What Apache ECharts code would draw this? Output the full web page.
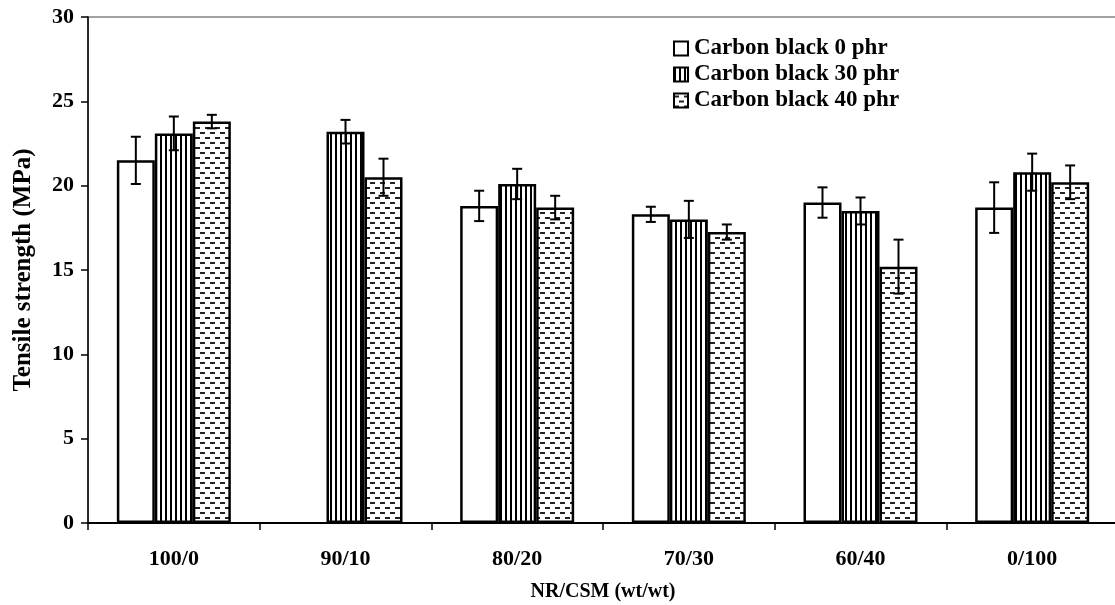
<!DOCTYPE html>
<html>
<head>
<meta charset="utf-8">
<script src="https://cdn.jsdelivr.net/npm/echarts@6/dist/echarts.min.js"></script>
<style>
  html, body { margin: 0; padding: 0; background: #fff; }
  #chart { width: 1115px; height: 605px; }
</style>
</head>
<body>
<div id="chart"></div>
<script>
// NR/CSM blend ratios
const categories = ['100/0', '90/10', '80/20', '70/30', '60/40', '0/100'];
const seriesNames = ['Carbon black 0 phr', 'Carbon black 30 phr', 'Carbon black 40 phr'];

// Tensile strength (MPa) and standard deviations per carbon black loading
const cb0 = [21.5, null, 18.8, 18.3, 19.0, 18.7];
const cb0Err = [1.4, null, 0.9, 0.45, 0.9, 1.5];
const cb30 = [23.1, 23.2, 20.1, 18.0, 18.5, 20.8];
const cb30Err = [1.0, 0.7, 0.9, 1.1, 0.8, 1.1];
const cb40 = [23.8, 20.5, 18.7, 17.25, 15.2, 20.2];
const cb40Err = [0.4, 1.1, 0.7, 0.45, 1.6, 1.0];

const yTicks = [0, 5, 10, 15, 20, 25, 30];

const FONT = '"Liberation Serif", "Times New Roman", serif';
const BAR_W = 38;

// Hatch fills
function stripePattern() {
  const c = document.createElement('canvas');
  c.width = 5; c.height = 5;
  const g = c.getContext('2d');
  g.fillStyle = '#fff'; g.fillRect(0, 0, 5, 5);
  g.fillStyle = '#000'; g.fillRect(0, 0, 2, 5);
  return { image: c, repeat: 'repeat' };
}
function dashPattern() {
  const c = document.createElement('canvas');
  c.width = 10; c.height = 10;
  const g = c.getContext('2d');
  g.fillStyle = '#fff'; g.fillRect(0, 0, 10, 10);
  g.fillStyle = '#222';
  g.fillRect(0, 2, 5, 2);
  g.fillRect(5, 7, 5, 2);
  return { image: c, repeat: 'repeat' };
}

const fills = ['#ffffff', stripePattern(), dashPattern()];
const values = [cb0, cb30, cb40];
const errors = [cb0Err, cb30Err, cb40Err];

const barSeries = seriesNames.map((name, i) => ({
  name: name,
  type: 'bar',
  barWidth: BAR_W,
  barGap: '0%',
  data: values[i],
  itemStyle: { color: fills[i], borderColor: '#000', borderWidth: 2.5 },
  emphasis: { disabled: true },
  z: 2
}));

const errSeries = seriesNames.map((name, i) => ({
  name: name + ' error',
  type: 'custom',
  data: values[i].map((v, k) => (v == null ? [k, null, null] : [k, v, errors[i][k]])),
  renderItem: function (params, api) {
    const v = api.value(1);
    const e = api.value(2);
    if (v == null || isNaN(v)) return null;
    const off = (i - 1) * BAR_W;
    const hi = api.coord([api.value(0), v + e]);
    const lo = api.coord([api.value(0), v - e]);
    const x = hi[0] + off;
    const cap = 5;
    const st = { stroke: '#000', lineWidth: 2 };
    return {
      type: 'group',
      children: [
        { type: 'line', shape: { x1: x, y1: hi[1], x2: x, y2: lo[1] }, style: st },
        { type: 'line', shape: { x1: x - cap, y1: hi[1], x2: x + cap, y2: hi[1] }, style: st },
        { type: 'line', shape: { x1: x - cap, y1: lo[1], x2: x + cap, y2: lo[1] }, style: st }
      ]
    };
  },
  z: 5,
  silent: true
}));

const chart = echarts.init(document.getElementById('chart'), null, { renderer: 'canvas' });
chart.setOption({
  animation: false,
  backgroundColor: '#fff',
  grid: {
    left: 88, top: 17, width: 1030, height: 506,
    outerBoundsMode: 'none',
    containLabel: false,
    show: true, borderColor: '#444', borderWidth: 1, backgroundColor: 'transparent'
  },
  legend: {
    data: seriesNames,
    orient: 'vertical',
    left: 668, top: 32,
    itemWidth: 14, itemHeight: 14,
    itemGap: 3,
    icon: 'rect',
    textStyle: { fontFamily: FONT, fontWeight: 'bold', fontSize: 23, color: '#000', padding: [0, 0, 0, 1] },
    selectedMode: false
  },
  xAxis: {
    type: 'category',
    data: categories,
    name: 'NR/CSM (wt/wt)',
    nameLocation: 'middle',
    nameGap: 59,
    nameTextStyle: { fontFamily: FONT, fontWeight: 'bold', fontSize: 20, color: '#000' },
    axisLine: { lineStyle: { color: '#000', width: 2 } },
    axisTick: { show: true, length: 7, lineStyle: { color: '#000', width: 1.5 } },
    axisLabel: { fontFamily: FONT, fontWeight: 'bold', fontSize: 22, color: '#000', margin: 25 },
    splitLine: { show: false }
  },
  yAxis: {
    type: 'value',
    min: yTicks[0], max: yTicks[yTicks.length - 1], interval: 5,
    name: 'Tensile strength (MPa)',
    nameLocation: 'middle',
    nameGap: 52,
    nameRotate: 90,
    nameTextStyle: { fontFamily: FONT, fontWeight: 'bold', fontSize: 25, color: '#000' },
    axisLine: { show: true, lineStyle: { color: '#000', width: 1.5 } },
    axisTick: { show: true, length: 7, lineStyle: { color: '#000', width: 1.5 } },
    axisLabel: { fontFamily: FONT, fontWeight: 'bold', fontSize: 22, color: '#000', margin: 14 },
    splitLine: { show: false }
  },
  series: barSeries.concat(errSeries)
});
</script>
</body>
</html>
